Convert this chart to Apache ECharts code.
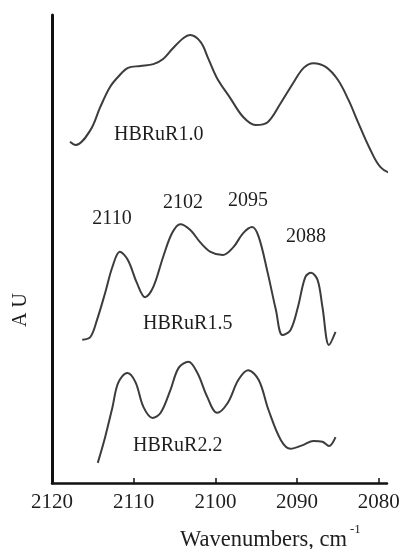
<!DOCTYPE html>
<html>
<head>
<meta charset="utf-8">
<script src="https://cdn.jsdelivr.net/npm/echarts@6/dist/echarts.min.js"></script>
<style>
  html, body { margin: 0; padding: 0; background: #fff; }
  #chart { width: 403px; height: 549px; }
</style>
</head>
<body>
<div id="chart"></div>
<script>
  // wavenumber (cm-1) / absorbance (arbitrary units) pairs
  var wn10 = [2117.8, 2117.1, 2115.3, 2114.1, 2112.9, 2111.9, 2110.7, 2109.2, 2107.6, 2106.4, 2105.2, 2103.9, 2103.1, 2101.8, 2100.9, 2099.8, 2098.2, 2096.6, 2095.1, 2093.6, 2092.0, 2090.4, 2089.2, 2088.0, 2086.5, 2085.0, 2083.7, 2082.5, 2081.2, 2079.8, 2078.2, 2077.3, 2076.8]
  var au10 = [72.9, 72.2, 75.4, 80.3, 84.6, 86.8, 88.7, 89.1, 89.5, 90.6, 92.9, 95.1, 95.7, 94.2, 90.8, 86.5, 82.3, 78.2, 76.5, 77.1, 81.2, 85.7, 88.7, 89.7, 88.9, 86.1, 81.8, 76.9, 71.8, 67.5, 66.2, 67.3, 69.5]

  var wn15 = [2116.3, 2115.3, 2114.5, 2113.5, 2112.6, 2111.7, 2110.7, 2109.6, 2108.6, 2107.6, 2106.4, 2105.3, 2104.3, 2103.1, 2101.8, 2100.6, 2099.1, 2097.8, 2096.6, 2095.5, 2094.7, 2093.6, 2092.6, 2091.8, 2090.8, 2089.9, 2089.0, 2088.3, 2087.5, 2086.9, 2086.1, 2085.3]
  var au15 = [30.6, 31.2, 34.8, 40.6, 46.2, 49.4, 47.6, 42.7, 39.7, 41.9, 48.3, 53.4, 55.3, 54.1, 51.3, 49.4, 48.7, 50.4, 53.4, 54.7, 52.6, 44.9, 37.0, 31.6, 32.7, 37.6, 44.0, 44.9, 43.4, 37.6, 29.5, 32.3]

  var wn22 = [2114.4, 2113.5, 2112.6, 2111.9, 2110.8, 2109.8, 2108.8, 2107.7, 2106.7, 2105.5, 2104.5, 2103.3, 2102.2, 2101.0, 2099.8, 2098.5, 2097.2, 2096.0, 2094.7, 2093.5, 2092.0, 2090.8, 2089.3, 2088.0, 2086.9, 2086.1, 2085.3]
  var au22 = [4.3, 9.8, 16.2, 21.4, 23.5, 21.6, 16.2, 13.9, 15.0, 19.9, 24.6, 25.9, 23.5, 18.4, 15.0, 17.1, 22.0, 24.1, 22.0, 15.6, 9.2, 7.3, 8.1, 9.0, 8.8, 7.9, 9.8]

  var xTicks = [2120, 2110, 2100, 2090, 2080]
  var sampleNames = ['HBRuR1.0', 'HBRuR1.5', 'HBRuR2.2']
  var peakNames = ['2110', '2102', '2095', '2088']

  function pairs(xs, ys) {
    var out = []
    for (var i = 0; i < xs.length; i++) out.push([xs[i], ys[i]])
    return out
  }

  var serif = '"Liberation Serif", "DejaVu Serif", serif'
  var ink = '#1e1e1e'

  function txt(s, x, y, size, align) {
    return {
      type: 'text', x: x, y: y,
      style: { text: s, font: size + 'px ' + serif, fill: ink, textAlign: align || 'left', textVerticalAlign: 'middle' }
    }
  }

  function line(name, d) {
    return {
      name: name, type: 'line', data: d, smooth: 0.35, showSymbol: false, clip: false,
      lineStyle: { color: '#3c3c3c', width: 2 }, animation: false
    }
  }

  var chart = echarts.init(document.getElementById('chart'))
  chart.setOption({
    animation: false,
    grid: { left: 52, right: 16, top: 15, bottom: 66, containLabel: false, outerBoundsMode: 'none' },
    xAxis: {
      type: 'value', inverse: true, min: 2079, max: 2120,
      axisLine: { onZero: false, lineStyle: { color: '#111', width: 2.5 } },
      axisTick: { inside: true, length: 5, customValues: xTicks, lineStyle: { color: '#111', width: 1.5 } },
      axisLabel: {
        customValues: xTicks, margin: 9, color: ink, fontSize: 21, fontFamily: serif,
        formatter: function (v) { return String(v) }
      },
      splitLine: { show: false }
    },
    yAxis: {
      type: 'value', min: 0, max: 100,
      axisLine: { show: true, lineStyle: { color: '#111', width: 3 } },
      axisTick: { show: false },
      axisLabel: { show: false },
      splitLine: { show: false }
    },
    graphic: [
      txt(sampleNames[0], 114, 135, 20),
      txt(sampleNames[1], 143, 324, 20),
      txt(sampleNames[2], 133, 446, 20),
      txt(peakNames[0], 112, 219, 20, 'center'),
      txt(peakNames[1], 183, 203, 20, 'center'),
      txt(peakNames[2], 248, 201, 20, 'center'),
      txt(peakNames[3], 306, 237, 20, 'center'),
      txt('Wavenumbers, cm', 180, 540, 22.5),
      txt('-1', 350, 530, 13),
      {
        type: 'text', x: 21, y: 310, rotation: Math.PI / 2,
        style: { text: 'A U', font: '20px ' + serif, fill: ink, textAlign: 'center', textVerticalAlign: 'middle' }
      }
    ],
    series: [
      line(sampleNames[0], pairs(wn10, au10)),
      line(sampleNames[1], pairs(wn15, au15)),
      line(sampleNames[2], pairs(wn22, au22))
    ]
  })
</script>
</body>
</html>
